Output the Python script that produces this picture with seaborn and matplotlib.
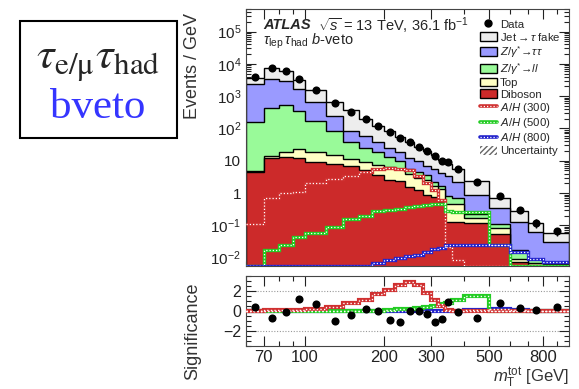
import numpy as np
import matplotlib
matplotlib.use("Agg")
import matplotlib.pyplot as plt
import matplotlib.ticker as mticker
from matplotlib.lines import Line2D
from matplotlib.patches import Patch, Rectangle
import seaborn as sns

# bin edges of m_T^tot [GeV]
edges = [60, 70, 80, 90, 100, 120, 140, 160, 180, 200, 220, 240, 260, 280,
         300, 320, 340, 360, 400, 500, 600, 700, 800, 1000]

# background contributions, Events / GeV
diboson = [4.6, 12, 13.3, 12.5, 9.3, 7.8, 6.8, 5.2, 3.6, 2.6, 2.3, 1.5, 1.2,
           0.9, 0.75, 0.55, 0.13, 0.125, 0.12, 0.052, 0.0074, 0.006, 0.0058]
top = [0.3, 2.3, 5.7, 10.5, 9.7, 7.2, 4.4, 4.1, 4.0, 3.6, 3.2, 2.3, 1.8,
       1.7, 0.85, 0.75, 0.34, 0.325, 0.046, 0.028, 0.0017, 0.001, 0.0007]
zll = [150, 423, 511, 322, 146, 68, 27.8, 14.7, 11.4, 6.8, 4.5, 1.7, 1.6,
       0.9, 0.6, 0.3, 0.33, 0.25, 0.054, 0.027, 0.0083, 0.002, 0.001]
ztautau = [2195, 3063, 2370, 1305, 485, 157, 46, 33, 18, 12, 8, 7, 5.4,
           3.5, 3.3, 2.7, 2.6, 1.54, 0.65, 0.233, 0.106, 0.054, 0.0235]
fakes = [1250, 4100, 3100, 1550, 900, 410, 275, 143, 83, 57, 38, 24.5, 16,
         13, 10, 6.0, 4.4, 3.26, 1.43, 0.36, 0.157, 0.052, 0.025]

data = [3800, 7400, 5900, 3300, 1580, 600, 330, 195, 118, 76, 51, 37, 26,
        19.5, 14.3, 10, 9.3, 5.4, 2.15, 0.81, 0.30, 0.12, 0.065]

# signal hypotheses, Events / GeV
ah300 = [0.11, 0.68, 1.0, 1.1, 2.0, 2.65, 3.4, 4.5, 5.4, 5.8, 5.5, 5.0, 3.3,
         2.0, 1.2, 0.6, 0.022, 0.0085, 0.004, 0.004, 0.004, 0.004, 0.004]
ah500 = [0.004, 0.017, 0.025, 0.045, 0.056, 0.09, 0.16, 0.19, 0.28, 0.30,
         0.33, 0.36, 0.40, 0.43, 0.45, 0.47, 0.27, 0.26, 0.25, 0.024, 0.004,
         0.004, 0.004]
ah800 = [0.004, 0.004, 0.004, 0.004, 0.004, 0.004, 0.004, 0.004, 0.0066,
         0.0085, 0.0095, 0.011, 0.012, 0.015, 0.018, 0.02, 0.024, 0.0245,
         0.0245, 0.0245, 0.015, 0.009, 0.0074]

# significance panel
sig_data = [0.44, -0.73, -0.1, 1.24, 0.67, -1.0, -0.4, 0.17, 0.0, -0.93, -1.1,
            0.0, 0.0, -0.26, -1.1, -0.76, 0.9, -0.1, -0.73, 0.77, 0.3, 0.1, 0.44]
sig300 = [0.0, 0.1, 0.15, 0.15, 0.2, 0.45, 0.8, 1.15, 1.7, 2.15, 2.6, 2.95,
          2.6, 1.8, 1.1, 0.55, 0.15, 0.02, 0, 0, 0, 0, 0]
sig500 = [0, 0, 0, 0, 0, 0, 0.02, 0.03, 0.05, 0.15, 0.2, 0.22, 0.3, 0.4,
          0.55, 0.7, 0.85, 1.1, 1.55, 0.05, 0.02, 0.02, 0.02]
sig800 = [0, 0, 0, 0, 0, 0, 0, 0, 0, 0, 0, 0, 0, 0, 0, 0, 0.03, 0.05, 0.15,
          0.25, 0.1, 0.05, 0.03]

xticks = [70, 100, 200, 300, 500, 800]
xminor = [60, 80, 90, 400, 600, 700, 900]
ydecades = [-2, -1, 0, 1, 2, 3, 4, 5]

YMIN, YMAX = 5.5e-3, 5e5

sns.set_style("ticks")
plt.rcParams["font.family"] = ["Liberation Sans", "DejaVu Sans"]
plt.rcParams["mathtext.fontset"] = "custom"
plt.rcParams["mathtext.rm"] = "Liberation Sans"
plt.rcParams["mathtext.it"] = "Liberation Sans:italic"
plt.rcParams["mathtext.bf"] = "Liberation Sans:bold"

edges_a = np.array(edges, dtype=float)
centers = 0.5 * (edges_a[:-1] + edges_a[1:])
widths = np.diff(edges_a)
data_a = np.array(data)
data_err = np.sqrt(data_a * widths) / widths

W, H = 579, 389
fig = plt.figure(figsize=(W / 100, H / 100), dpi=100)
ax = fig.add_axes([246 / W, 1 - 266 / H, 323 / W, 257 / H])
rax = fig.add_axes([246 / W, 1 - 346 / H, 323 / W, 70 / H])

# stacked backgrounds, drawn from the top of the stack down
stack = [
    ("Diboson", diboson, "#cc2a2a"),
    ("Top", top, "#ffffc4"),
    (r"$Z/\gamma^{*}\!\rightarrow\! ll$", zll, "#99fa99"),
    (r"$Z/\gamma^{*}\!\rightarrow\!\tau\tau$", ztautau, "#9a9aff"),
    (r"Jet$\rightarrow\tau$ fake", fakes, "#ededed"),
]
cum = np.cumsum([np.array(v) for _, v, _ in stack], axis=0)
for i in range(len(stack) - 1, -1, -1):
    ax.stairs(cum[i], edges_a, baseline=1e-4, fill=True,
              facecolor=stack[i][2], edgecolor="black", linewidth=1.0, zorder=1)

signals = [("A/H (300)", ah300, sig300, "#d03030"),
           ("A/H (500)", ah500, sig500, "#22cc22"),
           ("A/H (800)", ah800, sig800, "#2222cc")]
for _, vals, _, col in signals:
    v = np.clip(vals, YMIN, None)
    ax.stairs(v, edges_a, baseline=None, color=col, linewidth=2.4, zorder=3)
    ax.stairs(v, edges_a, baseline=None, color="white", linewidth=0.9,
              linestyle=(0, (1, 1.6)), zorder=4)

ax.errorbar(centers, data_a, yerr=data_err, fmt="none", ecolor="black",
            elinewidth=1.0, zorder=5)
sns.scatterplot(x=centers, y=data_a, ax=ax, color="black", s=34,
                linewidth=0, zorder=6, legend=False)

ax.set_xscale("log")
ax.set_yscale("log")
ax.set_xlim(60, 1000)
ax.set_ylim(YMIN, YMAX)


def log_label(k):
    if k == 0:
        return "1"
    if k == 1:
        return "10"
    return r"$10^{%d}$" % k


ax.set_yticks([10.0 ** k for k in ydecades])
ax.set_yticklabels([log_label(k) for k in ydecades])
ax.set_yticks([m * 10.0 ** k for k in range(-3, 6) for m in range(2, 10)
               if YMIN <= m * 10.0 ** k <= YMAX], minor=True)
ax.yaxis.set_minor_formatter(mticker.NullFormatter())
ax.set_ylim(YMIN, YMAX)
ax.set_ylabel("Events / GeV", fontsize=13, color="#333333", loc="top")
ax.yaxis.set_label_coords(-0.14, 0.985)

for a in (ax, rax):
    a.set_xscale("log")
    a.set_xlim(60, 1000)
    a.set_xticks(xticks)
    a.set_xticks(xminor, minor=True)
    a.xaxis.set_minor_formatter(mticker.NullFormatter())
    a.tick_params(which="both", direction="in", top=True, right=True,
                  labelsize=11.5, colors="#222222", width=0.8)
    a.tick_params(which="major", length=7)
    a.tick_params(which="minor", length=3.5)
    for s in a.spines.values():
        s.set_linewidth(0.8)
        s.set_color("#444444")
ax.tick_params(axis="y", labelsize=11)
ax.tick_params(axis="x", labelbottom=False)
rax.set_xticklabels([str(t) for t in xticks])
rax.tick_params(axis="x", labelsize=12, pad=3)

ax.text(0.053, 0.936, "ATLAS", transform=ax.transAxes, fontsize=10.5,
        fontweight="bold", fontstyle="italic", va="center", ha="left")
ax.text(0.222, 0.936, r"$\sqrt{s}$ = 13 TeV, 36.1 fb$^{-1}$", transform=ax.transAxes,
        fontsize=10.5, va="center", ha="left")
ax.text(0.053, 0.874, r"$\tau_{\rm lep}\,\tau_{\rm had}$ $b$-veto", transform=ax.transAxes,
        fontsize=10.5, va="center", ha="left")

# legend
handles = [Line2D([], [], marker="o", color="black", ls="none", markersize=5)]
labels = ["Data"]
for name, _, col in stack[::-1]:
    handles.append(Patch(facecolor=col, edgecolor="black", linewidth=1.0))
    labels.append(name)
for name, _, _, col in signals:
    handles.append((Line2D([], [], color=col, lw=2.6),
                    Line2D([], [], color="white", lw=0.9, ls=(0, (1, 1.6)))))
    labels.append(r"$A/H$" + name[3:])
handles.append(Patch(facecolor="white", edgecolor="#666666", hatch="//////", linewidth=0))
labels.append("Uncertainty")
ax.legend(handles, labels, loc="upper left", bbox_to_anchor=(0.725, 0.96),
          frameon=False, fontsize=8.2, handlelength=1.45, handleheight=0.8,
          handletextpad=0.3, labelspacing=0.1, borderaxespad=0, borderpad=0)

# significance panel
for y in (-2, 2):
    rax.axhline(y, color="#999999", ls=(0, (1, 1.5)), lw=0.8, zorder=0)
for _, _, sig, col in signals[::-1]:
    rax.stairs(sig, edges_a, baseline=None, color=col, linewidth=3.0, zorder=3)
    rax.stairs(sig, edges_a, baseline=None, color="white", linewidth=1.0,
               linestyle=(0, (1, 1.6)), zorder=4)
sns.scatterplot(x=centers, y=sig_data, ax=rax, color="black", s=34,
                linewidth=0, zorder=6, legend=False)
rax.set_ylim(-3.5, 3.5)
rax.set_yticks([-2, 0, 2])
rax.yaxis.set_minor_locator(mticker.MultipleLocator(0.5))
rax.set_ylabel("Significance", fontsize=13, color="#333333")
rax.yaxis.set_label_coords(-0.14, 0.21)
rax.set_xlabel(r"$m_{\rm T}^{\rm tot}$ [GeV]", fontsize=12, color="#333333", loc="right")
rax.xaxis.set_label_coords(1.0, -0.285)

# channel box on the left
fig.patches.append(Rectangle((20 / W, 1 - 138 / H), 157 / W, 117 / H,
                             transform=fig.transFigure, fill=False,
                             edgecolor="black", linewidth=1.5))
fig.text(98 / W, 1 - 64 / H, r"$\tau_{\mathrm{e/\mu}}\tau_{\mathrm{had}}$",
         fontsize=32, ha="center", va="center", math_fontfamily="stix")
fig.text(98 / W, 1 - 108 / H, "bveto", fontsize=31, ha="center", va="center",
         color="#3535ff", family=["Liberation Serif", "DejaVu Serif"])

fig.savefig("out.png", dpi=100)
